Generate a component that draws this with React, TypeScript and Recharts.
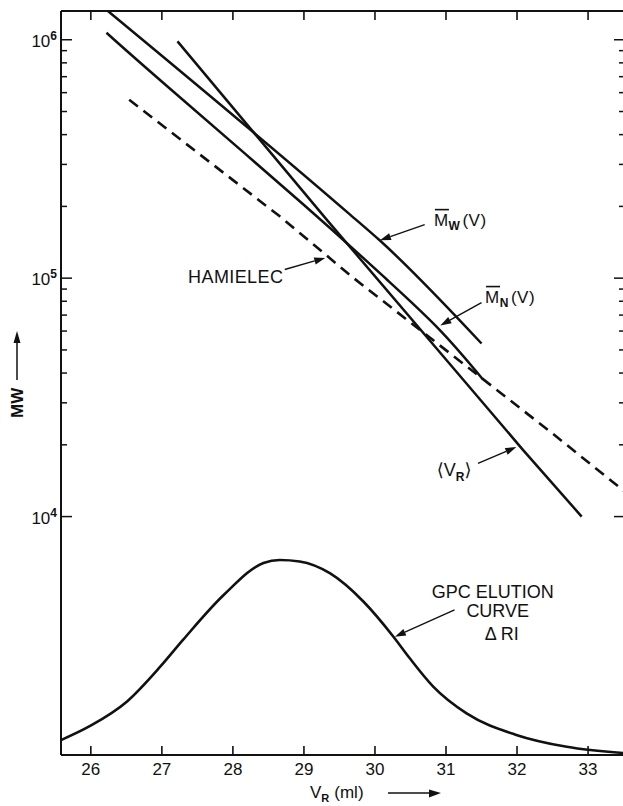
import React from 'react'
import { ComposedChart, Line, XAxis, YAxis, ReferenceLine, ReferenceDot } from 'recharts'

const INK = '#111'
const FONT = '"Liberation Sans", Arial, Helvetica, sans-serif'

const V_DOMAIN = [25.58, 33.52]
const MW_DOMAIN = [1000, 1320000]
const RI_DOMAIN = [0, 100]

const V_TICKS = [26, 27, 28, 29, 30, 31, 32, 33]
const MW_MAJOR = [10000, 100000, 1000000]
const MW_MINOR = [
  20000, 30000, 40000, 50000, 60000, 70000, 80000, 90000,
  200000, 300000, 400000, 500000, 600000, 700000, 800000, 900000,
]

// Mw(V)
const mwV = [26.24, 26.83, 29.65, 30.07, 31.5]
const mwVal = [1320000, 944000, 184800, 143800, 53200]
// Mn(V)
const mnV = [26.22, 26.83, 29.25, 30.2, 30.93, 31.52]
const mnVal = [1070000, 736000, 176000, 96600, 61200, 37600]
// <V_R>
const vrV = [27.22, 29.32, 31.24, 32.08, 32.91]
const vrVal = [984000, 176000, 37600, 19100, 10000]
// Hamielec calibration (dashed)
const hamV = [26.54, 28.66, 29.69, 32.46, 33.52]
const hamVal = [560000, 181700, 100600, 22800, 12700]
// GPC elution curve, delta RI (relative units)
const riV = [25.58, 25.99, 26.51, 26.98, 27.3, 27.87, 28.43, 28.66, 28.94, 29.37, 29.84, 30.26, 30.49, 30.82, 31.29, 31.99, 32.7, 33.52]
const riVal = [2.0, 3.9, 7.2, 11.9, 15.5, 21.5, 25.8, 26.2, 26.0, 24.4, 20.6, 15.9, 13.0, 9.2, 5.6, 2.7, 1.1, 0.25]

const zip = (xs: number[], ys: number[]) => xs.map((v, i) => ({ v, y: ys[i] }))

const mwData = zip(mwV, mwVal)
const mnData = zip(mnV, mnVal)
const vrData = zip(vrV, vrVal)
const hamData = zip(hamV, hamVal)
const riData = zip(riV, riVal)

// annotation arrows: [v, value] tail -> tip
const ARROWS = [
  { axis: 'mw', from: [30.7, 167700], to: [30.07, 144200] },
  { axis: 'mw', from: [31.5, 79000], to: [30.92, 63300] },
  { axis: 'mw', from: [31.45, 16710], to: [31.99, 19560] },
  { axis: 'mw', from: [28.73, 108700], to: [29.3, 121600] },
  { axis: 'ri', from: [31.12, 19.5], to: [30.28, 15.9] },
]

function arrowShape(p: any) {
  const { x1, y1, x2, y2 } = p
  const a = Math.atan2(y2 - y1, x2 - x1)
  const L = 11
  const W = 3.6
  const bx = x2 - L * Math.cos(a)
  const by = y2 - L * Math.sin(a)
  const pts = `${x2},${y2} ${bx - W * Math.sin(a)},${by + W * Math.cos(a)} ${bx + W * Math.sin(a)},${by - W * Math.cos(a)}`
  return (
    <g>
      <line x1={x1} y1={y1} x2={bx} y2={by} stroke={INK} strokeWidth={1.4} />
      <polygon points={pts} fill={INK} />
    </g>
  )
}

// inward tick marks on both frame sides, drawn at a given MW value
const sideTicks = (len: number) => (p: any) => (
  <g>
    <line x1={p.x1} y1={p.y1} x2={p.x1 + len} y2={p.y1} stroke={INK} strokeWidth={1.5} />
    <line x1={p.x2 - len} y1={p.y2} x2={p.x2} y2={p.y2} stroke={INK} strokeWidth={1.5} />
  </g>
)

function BottomTick({ x, y, payload }: any) {
  return (
    <g>
      <line x1={x} y1={y} x2={x} y2={y - 9} stroke={INK} strokeWidth={1.6} />
      <text x={x} y={y + 20} textAnchor="middle" fontSize={17} fontFamily={FONT} fill={INK}>{payload.value}</text>
    </g>
  )
}

function TopTick({ x, y }: any) {
  return <line x1={x} y1={y} x2={x} y2={y + 9} stroke={INK} strokeWidth={1.6} />
}

function LeftLabel({ x, y, payload }: any) {
  const exp = Math.round(Math.log10(payload.value))
  return (
    <text x={x - 4} y={y + 7} textAnchor="end" fontSize={17} fontFamily={FONT} fill={INK}>
      10<tspan dy={-7} fontSize={12} fontWeight="bold">{exp}</tspan>
    </text>
  )
}

const txt = { fontFamily: FONT, fill: INK, fontSize: 17 }

function barM(cx: number, cy: number) {
  return <line x1={cx + 1} x2={cx + 15} y1={cy - 16} y2={cy - 16} stroke={INK} strokeWidth={1.6} />
}

const hamLabel = ({ cx, cy }: any) => (
  <text x={cx} y={cy} textAnchor="end" {...txt} fontSize={18} letterSpacing={0.4}>HAMIELEC</text>
)
const mwLabel = ({ cx, cy }: any) => (
  <g>
    <text x={cx} y={cy} {...txt} letterSpacing={0.5}>
      M<tspan fontSize={12} fontWeight="bold" dy={4}>W</tspan><tspan dy={-4} dx={2}>(V)</tspan>
    </text>
    {barM(cx, cy)}
  </g>
)
const mnLabel = ({ cx, cy }: any) => (
  <g>
    <text x={cx} y={cy} {...txt} letterSpacing={0.5}>
      M<tspan fontSize={12} fontWeight="bold" dy={4}>N</tspan><tspan dy={-4} dx={2}>(V)</tspan>
    </text>
    {barM(cx, cy)}
  </g>
)
const vrLabel = ({ cx, cy }: any) => (
  <text x={cx} y={cy} {...txt} fontSize={18}>
    <tspan fontFamily="DejaVu Sans">{'\u27E8'}</tspan>V<tspan fontSize={12} fontWeight="bold" dy={5}>R</tspan><tspan dy={-5} fontFamily="DejaVu Sans">{'\u27E9'}</tspan>
  </text>
)
const gpcLabel = ({ cx, cy }: any) => (
  <g>
    <text x={cx - 3} y={cy} textAnchor="middle" {...txt} fontSize={18}>GPC ELUTION</text>
    <text x={cx + 2} y={cy + 19} textAnchor="middle" {...txt} fontSize={18}>CURVE</text>
    <text x={cx + 6} y={cy + 42} textAnchor="middle" {...txt} fontSize={18}>{'\u0394'} RI</text>
  </g>
)

export default function App() {
  return (
    <div style={{ position: 'absolute', left: 0, top: 0, width: 623, height: 806, overflow: 'hidden', background: '#fff' }}>
      <ComposedChart width={640} height={806} margin={{ top: 0, right: 15, bottom: 0, left: 0 }}>
        <XAxis
          xAxisId="b" dataKey="v" type="number" domain={V_DOMAIN} allowDataOverflow
          ticks={V_TICKS} interval={0} tickSize={0} tickMargin={0} height={51}
          axisLine={{ stroke: INK, strokeWidth: 2 }} tick={<BottomTick />}
        />
        <XAxis
          xAxisId="t" orientation="top" dataKey="v" type="number" domain={V_DOMAIN} allowDataOverflow
          ticks={V_TICKS} interval={0} tickSize={0} tickMargin={0} height={11}
          axisLine={{ stroke: INK, strokeWidth: 2 }} tick={<TopTick />}
        />
        <YAxis
          yAxisId="mw" scale="log" type="number" domain={MW_DOMAIN} allowDataOverflow
          ticks={MW_MAJOR} interval={0} tickSize={0} tickMargin={0} width={61}
          axisLine={{ stroke: INK, strokeWidth: 2 }} tick={<LeftLabel />}
        />
        <YAxis yAxisId="ri" type="number" domain={RI_DOMAIN} allowDataOverflow hide width={0} />

        {MW_MAJOR.map((t) => (
          <ReferenceLine key={'M' + t} xAxisId="b" yAxisId="mw" y={t} shape={sideTicks(11)} />
        ))}
        {MW_MINOR.map((t) => (
          <ReferenceLine key={'m' + t} xAxisId="b" yAxisId="mw" y={t} shape={sideTicks(6)} />
        ))}

        <Line xAxisId="b" yAxisId="ri" data={riData} dataKey="y" type="monotone" stroke={INK} strokeWidth={2.6} dot={false} activeDot={false} isAnimationActive={false} />
        <Line xAxisId="b" yAxisId="mw" data={hamData} dataKey="y" type="linear" stroke={INK} strokeWidth={2.6} strokeDasharray="11 7" dot={false} activeDot={false} isAnimationActive={false} />
        <Line xAxisId="b" yAxisId="mw" data={mwData} dataKey="y" type="monotone" stroke={INK} strokeWidth={2.5} dot={false} activeDot={false} isAnimationActive={false} />
        <Line xAxisId="b" yAxisId="mw" data={mnData} dataKey="y" type="basis" stroke={INK} strokeWidth={2.5} dot={false} activeDot={false} isAnimationActive={false} />
        <Line xAxisId="b" yAxisId="mw" data={vrData} dataKey="y" type="linear" stroke={INK} strokeWidth={2.5} dot={false} activeDot={false} isAnimationActive={false} />

        {ARROWS.map((a, i) => (
          <ReferenceLine
            key={i} xAxisId="b" yAxisId={a.axis}
            segment={[{ x: a.from[0], y: a.from[1] }, { x: a.to[0], y: a.to[1] }]}
            shape={arrowShape} ifOverflow="visible"
          />
        ))}

        <ReferenceDot xAxisId="b" yAxisId="mw" x={28.71} y={95800} r={0} shape={hamLabel} ifOverflow="visible" />
        <ReferenceDot xAxisId="b" yAxisId="mw" x={30.83} y={166100} r={0} shape={mwLabel} ifOverflow="visible" />
        <ReferenceDot xAxisId="b" yAxisId="mw" x={31.55} y={79000} r={0} shape={mnLabel} ifOverflow="visible" />
        <ReferenceDot xAxisId="b" yAxisId="mw" x={30.87} y={14740} r={0} shape={vrLabel} ifOverflow="visible" />
        <ReferenceDot xAxisId="b" yAxisId="ri" x={31.7} y={21.1} r={0} shape={gpcLabel} ifOverflow="visible" />
      </ComposedChart>

      <svg width={623} height={806} style={{ position: 'absolute', left: 0, top: 0, pointerEvents: 'none' }}>
        <text transform="translate(23,418) rotate(-90)" fontFamily={FONT} fontSize={17} fontWeight="bold" fill={INK}>MW</text>
        <line x1={17} y1={380} x2={17} y2={342} stroke={INK} strokeWidth={1.5} />
        <polygon points="17,331 13.5,343 20.5,343" fill={INK} />
        <text x={310} y={798} fontFamily={FONT} fontSize={17} fill={INK}>
          V<tspan fontSize={11} fontWeight="bold" dy={4}>R</tspan><tspan dy={-4} dx={5}>(ml)</tspan>
        </text>
        <line x1={388} y1={793} x2={430} y2={793} stroke={INK} strokeWidth={1.5} />
        <polygon points="441,793 429,789.5 429,797.5" fill={INK} />
      </svg>
    </div>
  )
}
